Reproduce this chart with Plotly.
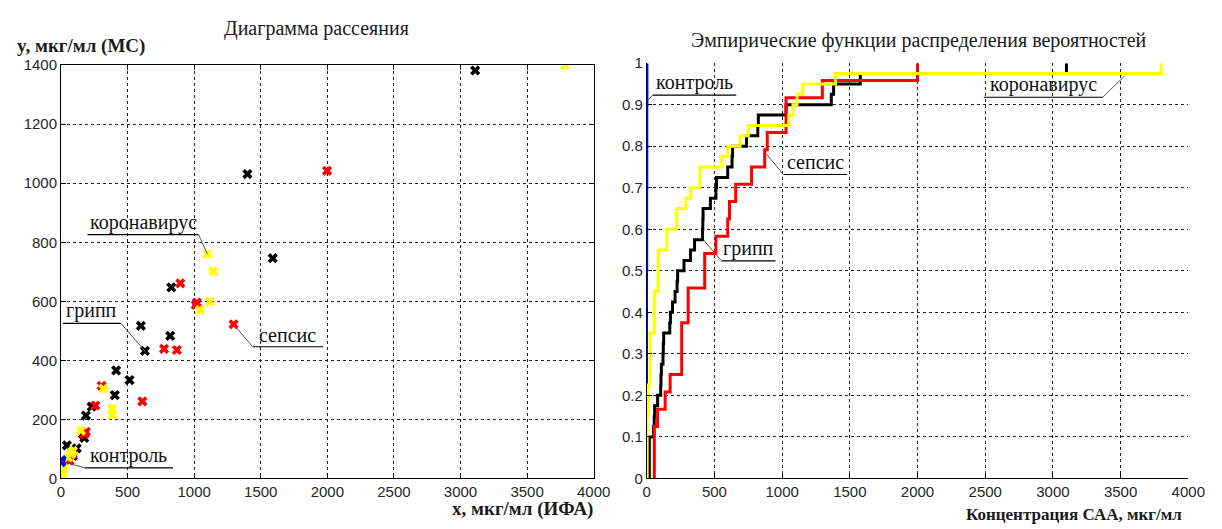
import numpy as np
import plotly.graph_objects as go

# ---- scatter data: x = ИФА, y = МС (мкг/мл) ----
control_x = [2, 4, 1]
control_y = [58, 62, 55]

flu_x = [3110, 1400, 1590, 828, 820, 600, 630, 414, 515, 404, 230, 187, 175, 165, 44, 118, 89]
flu_y = [1382, 1031, 746, 647, 483, 517, 432, 366, 333, 282, 243, 213, 137, 150, 112, 102, 76]

sepsis_x = [1998, 1296, 896, 1020, 1012, 774, 870, 611, 305, 258, 187, 175, 89, 64]
sepsis_y = [1042, 522, 661, 596, 588, 439, 435, 261, 314, 247, 158, 150, 82, 60]

covid_x = [3784, 1099, 1143, 1118, 1044, 318, 384, 384, 150, 89, 52, 76, 15, 12, 20, 8]
covid_y = [1400, 760, 702, 599, 571, 304, 237, 216, 162, 93, 71, 82, 27, 11, 35, 18]

# ---- samples for the empirical CDFs (концентрация САА, мкг/мл) ----
control_saa = [1, 1, 2, 2, 2, 3, 3, 4, 4, 5]
flu_saa = [19, 19, 19, 19, 50, 55, 58, 80, 103, 105, 108, 120, 122, 125, 170, 175,
           190, 209, 224, 228, 275, 323, 353, 412, 414, 416, 470, 511, 515, 598,
           630, 634, 737, 820, 824, 1029, 1363, 1380, 1577, 3100]
sepsis_saa = [56, 56, 56, 80, 136, 173, 258, 258, 258, 306, 306, 428, 428, 511,
              598, 611, 657, 774, 871, 890, 1029, 1029, 1297, 2000]
covid_saa = [3, 3, 3, 3, 3, 3, 10, 10, 10, 24, 24, 24, 24, 24, 56, 56, 56, 56,
             85, 85, 85, 85, 148, 148, 221, 221, 290, 324, 392, 392, 555, 598,
             690, 750, 1050, 1080, 1110, 1151, 1394, 3800]

x_ticks = [0, 500, 1000, 1500, 2000, 2500, 3000, 3500, 4000]
y_ticks_left = [0, 200, 400, 600, 800, 1000, 1200, 1400]
y_ticks_right = [0, 0.1, 0.2, 0.3, 0.4, 0.5, 0.6, 0.7, 0.8, 0.9, 1]
y_ticktext_right = ["0", "0.1", "0.2", "0.3", "0.4", "0.5", "0.6", "0.7", "0.8", "0.9", "1"]

BLUE, BLACK, RED, YELLOW = "#0000ff", "#000000", "#ff0000", "#ffff00"

W, H = 1222, 529


def px(x):
    return x / W


def py(y):
    return 1 - y / H


def ecdf_xy(vals):
    v = np.sort(np.asarray(vals, dtype=float))
    u, counts = np.unique(v, return_counts=True)
    F = np.cumsum(counts) / len(v)
    return np.concatenate([[u[0]], u]), np.concatenate([[0.0], F])


fig = go.Figure()

# left panel: scatter
for xs, ys, col in [(flu_x, flu_y, BLACK), (sepsis_x, sepsis_y, RED),
                    (covid_x, covid_y, YELLOW), (control_x, control_y, BLUE)]:
    fig.add_trace(go.Scatter(x=xs, y=ys, mode="markers", xaxis="x", yaxis="y",
                             marker=dict(symbol="x", size=9, color=col, line=dict(width=0)),
                             showlegend=False, hoverinfo="skip"))

# right panel: empirical CDFs
for vals, col, lw in [(control_saa, BLUE, 2), (flu_saa, BLACK, 3),
                      (sepsis_saa, RED, 3), (covid_saa, YELLOW, 3)]:
    ex, ey = ecdf_xy(vals)
    fig.add_trace(go.Scatter(x=ex, y=ey, mode="lines", xaxis="x2", yaxis="y2",
                             line=dict(color=col, width=lw, shape="hv"),
                             showlegend=False, hoverinfo="skip"))

tick_font = dict(family="Liberation Sans", size=15, color="#262626")
grid = dict(showgrid=True, gridcolor="#222222", gridwidth=1, griddash="3px,3px",
            zeroline=False, ticks="inside", ticklen=5, tickcolor="#000000",
            tickfont=tick_font, showline=True, linecolor="#000000", linewidth=1)

fig.update_layout(
    width=W, height=H, margin=dict(l=0, r=0, t=0, b=0),
    paper_bgcolor="white", plot_bgcolor="white",
    xaxis=dict(domain=[px(58), px(600)], range=[0, 4000], tickvals=x_ticks,
               anchor="y", mirror="ticks", **grid),
    yaxis=dict(domain=[py(485), py(58)], range=[0, 1400], tickvals=y_ticks_left,
               anchor="x", mirror="ticks", **grid),
    xaxis2=dict(domain=[px(654), px(1205)], range=[0, 4000], tickvals=x_ticks,
                anchor="y2", **grid),
    yaxis2=dict(domain=[py(485), py(56)], range=[0, 1], tickvals=y_ticks_right,
                ticktext=y_ticktext_right, anchor="x2", **grid),
)

serif = "Liberation Serif"
for txt, x, y in [("Диаграмма рассеяния", 318, 20),
                  ("Эмпирические функции распределения вероятностей", 931, 33)]:
    fig.add_annotation(text=txt, x=px(x), y=py(y), xref="paper", yref="paper",
                       showarrow=False, xanchor="center", yanchor="middle",
                       font=dict(family=serif, size=20, color="#1a1a1a"))

fig.add_annotation(text="<b>y, мкг/мл (МС)</b>", x=px(11), y=py(38), xref="paper",
                   yref="paper", showarrow=False, xanchor="left", yanchor="middle",
                   font=dict(family=serif, size=19, color="#1a1a1a"))
fig.add_annotation(text="<b>x, мкг/мл (ИФА)</b>", x=px(601), y=py(517), xref="paper",
                   yref="paper", showarrow=False, xanchor="right", yanchor="middle",
                   font=dict(family=serif, size=19, color="#1a1a1a"))
fig.add_annotation(text="<b>Концентрация САА, мкг/мл</b>", x=px(1201), y=py(522),
                   xref="paper", yref="paper", showarrow=False, xanchor="right",
                   yanchor="middle", font=dict(family=serif, size=17, color="#1a1a1a"))

# callout labels: text over an underline, with a leader to the marked point
callouts = [
    # left panel
    ("x", "y", "коронавирус", (199, 1033), 826, (covid_x[1], covid_y[1]), "right"),
    ("x", "y", "грипп", (15, 450), 525, (flu_x[6], flu_y[6]), "right"),
    ("x", "y", "сепсис", (1439, 1970), 446, (sepsis_x[1], sepsis_y[1]), "left"),
    ("x", "y", "контроль", (177, 841), 36, (control_x[0], control_y[0]), "left"),
    # right panel
    ("x2", "y2", "контроль", (44, 661), 0.923, (control_saa[-1], 0.91), "left"),
    ("x2", "y2", "сепсис", (1009, 1481), 0.732, (sepsis_saa[19] - 5, 0.781), "left"),
    ("x2", "y2", "грипп", (552, 951), 0.524, (flu_saa[23] + 5, 0.575), "left"),
    ("x2", "y2", "коронавирус", (2490, 3368), 0.918, (3528, 0.969), "right"),
]
for xr, yr, txt, (u0, u1), uy, (qx, qy), side in callouts:
    ux = u1 if side == "right" else u0
    fig.add_shape(type="line", xref=xr, yref=yr, x0=u0, x1=u1, y0=uy, y1=uy,
                  line=dict(color="#000000", width=1.2))
    fig.add_shape(type="line", xref=xr, yref=yr, x0=ux, y0=uy, x1=qx, y1=qy,
                  line=dict(color="#555555", width=1))
    fig.add_annotation(text=txt, x=(u0 + u1) / 2, y=uy, xref=xr, yref=yr,
                       showarrow=False, xanchor="center", yanchor="bottom", yshift=-1,
                       font=dict(family=serif, size=20, color="#111111"))

fig.write_html("out.html")
